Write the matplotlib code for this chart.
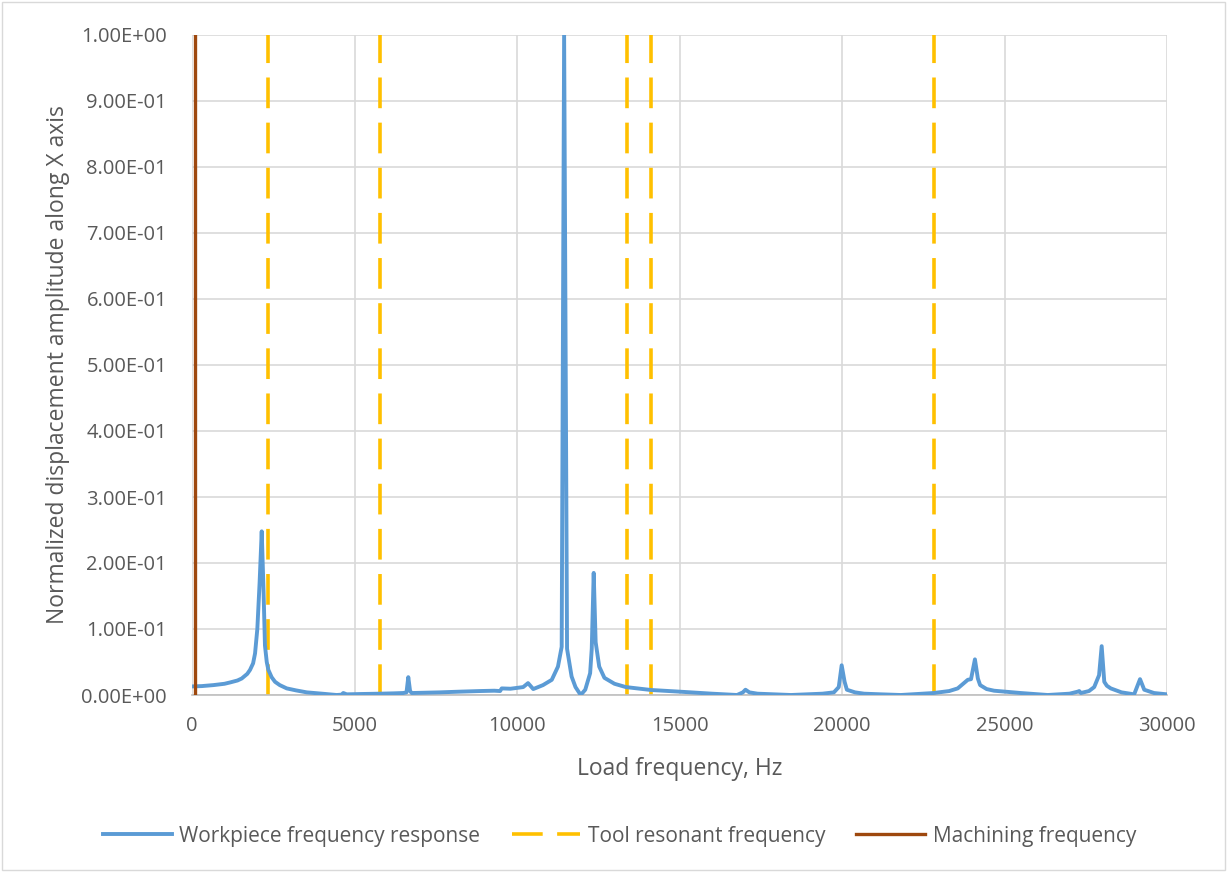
import matplotlib.pyplot as plt
from matplotlib.patches import Rectangle
from matplotlib.ticker import FuncFormatter

plt.rcParams['font.family'] = ['Open Sans', 'DejaVu Sans']

# Workpiece response, normalized displacement along X
freq_hz = [0, 300, 660, 1000, 1170, 1400, 1530, 1700, 1785, 1880,
           1940, 2010, 2080, 2145, 2200, 2245, 2300, 2350, 2450, 2555,
           2700, 2915, 3200, 3530, 4000, 4450, 4600, 4655, 4760, 5200,
           5785, 6200, 6500, 6600, 6655, 6710, 6760, 7200, 7630, 8200,
           8860, 9300, 9480, 9530, 9800, 10190, 10340, 10500, 10800, 11070,
           11260, 11375, 11450, 11540, 11680, 11800, 11960, 12100, 12250, 12300,
           12360, 12420, 12530, 12690, 13000, 13350, 14120, 15020, 16000, 16770,
           16950, 17030, 17150, 17400, 18430, 19400, 19750, 19900, 19990, 20080,
           20150, 20400, 20680, 21210, 21810, 22820, 23300, 23560, 23870, 23970,
           24090, 24180, 24250, 24450, 24680, 25500, 26330, 27000, 27250, 27300,
           27350, 27600, 27760, 27910, 27990, 28070, 28150, 28270, 28600, 28990,
           29170, 29300, 29600, 30000]
amplitude = [0.013, 0.0135, 0.015, 0.017, 0.019, 0.022, 0.025, 0.032, 0.038, 0.048,
             0.063, 0.10, 0.17, 0.248, 0.16, 0.075, 0.05, 0.038, 0.027, 0.02,
             0.015, 0.010, 0.007, 0.004, 0.002, 0.0, 0.0005, 0.003, 0.001, 0.0015,
             0.002, 0.0025, 0.003, 0.004, 0.027, 0.006, 0.003, 0.0035, 0.004, 0.005,
             0.006, 0.0065, 0.006, 0.01, 0.0095, 0.012, 0.018, 0.009, 0.015, 0.023,
             0.043, 0.073, 1.0, 0.07, 0.028, 0.012, 0.0, 0.008, 0.033, 0.07,
             0.185, 0.08, 0.043, 0.026, 0.017, 0.012, 0.0076, 0.005, 0.002, 0.0,
             0.004, 0.008, 0.004, 0.002, 0.0, 0.002, 0.004, 0.012, 0.045, 0.02,
             0.008, 0.004, 0.002, 0.001, 0.0, 0.003, 0.006, 0.01, 0.023, 0.024,
             0.054, 0.025, 0.015, 0.009, 0.0065, 0.003, 0.0, 0.002, 0.005, 0.006,
             0.003, 0.006, 0.012, 0.03, 0.074, 0.02, 0.014, 0.01, 0.004, 0.001,
             0.024, 0.008, 0.003, 0.001]

tool_freqs = [2340, 5790, 13390, 14120, 22820]
machining_freq = 100

grey_text = '#595959'

fig = plt.figure(figsize=(12.27, 8.72), dpi=100)
fig.patches.append(Rectangle((2 / 1227, 2 / 872), 1223 / 1227, 868 / 872,
                             transform=fig.transFigure, fill=False,
                             edgecolor='#d9d9d9', linewidth=1))
ax = fig.add_axes([192 / 1227, 177 / 872, 975 / 1227, 660 / 872])

ax.plot(freq_hz, amplitude, color='#5B9BD5', linewidth=2.8,
        solid_joinstyle='round', label='Workpiece frequency response', zorder=3)
for i, f in enumerate(tool_freqs):
    ax.axvline(f, color='#FFC000', linewidth=2.6, dashes=(8.5, 4),
               label='Tool resonant frequency' if i == 0 else None, zorder=2)
ax.axvline(machining_freq, color='#9E480E', linewidth=2.4,
           label='Machining frequency', zorder=4)

ax.set_xlim(0, 30000)
ax.set_ylim(0, 1.0)
ax.set_xticks(range(0, 30001, 5000))
ax.set_yticks([i / 10 for i in range(11)])
ax.yaxis.set_major_formatter(FuncFormatter(lambda v, pos: f"{v:.2E}"))
ax.grid(True, color='#d9d9d9', linewidth=1.2)
ax.set_axisbelow(True)
for side in ['top', 'right', 'left']:
    ax.spines[side].set_visible(False)
ax.spines['bottom'].set_color('#bfbfbf')
ax.spines['bottom'].set_linewidth(1.2)
ax.tick_params(length=0, labelsize=14.5, labelcolor=grey_text)
ax.tick_params(axis='x', pad=15)
ax.tick_params(axis='y', pad=18)

ax.set_xlabel('Load frequency, Hz', fontsize=16.5, color=grey_text, labelpad=15)
ax.set_ylabel('Normalized displacement amplitude along X axis', fontsize=16.5,
              color=grey_text, labelpad=8)

fig.legend(loc='center', bbox_to_anchor=(0.505, 1 - 836 / 872), ncol=3,
           frameon=False, fontsize=15, labelcolor=grey_text,
           handlelength=3.3, handletextpad=0.35, columnspacing=1.5)

fig.savefig('out.png', dpi=100)
